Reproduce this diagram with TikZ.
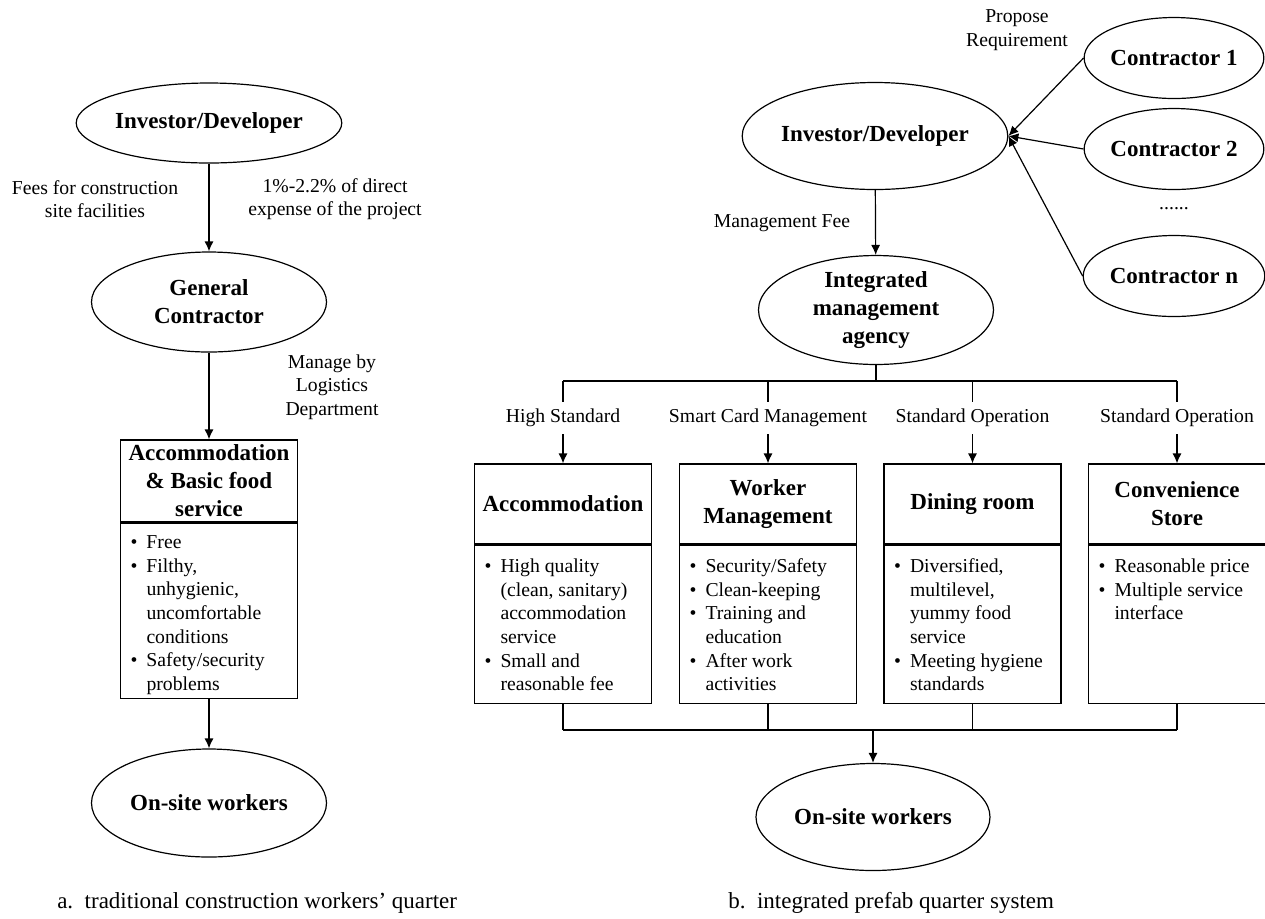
\documentclass[tikz,border=0pt]{standalone}
\usepackage{fontspec}
\setmainfont{Liberation Serif}
\usetikzlibrary{shapes.geometric,arrows.meta}

\newcommand{\bl}{\strut\makebox[8pt][l]{\textbullet}}
\newcommand{\nb}{\strut\hspace*{8pt}}

\begin{document}
\begin{tikzpicture}[x=0.5pt,y=-0.5pt,line width=0.6pt,>={Latex[length=5pt,width=4.5pt]},
    ovalnode/.style={ellipse, draw=black, inner sep=0pt, minimum width=117.5pt, minimum height=53.5pt, align=center, font=\fontsize{11.5pt}{14pt}\selectfont\bfseries},
    headbox/.style={rectangle, draw=black, minimum width=88.5pt, minimum height=40pt, inner sep=2pt, align=center, font=\fontsize{11.5pt}{14pt}\selectfont\bfseries},
    listbox/.style={rectangle, draw=black, anchor=north, inner xsep=5pt, inner ysep=4.5pt, font=\fontsize{9.85pt}{11.8pt}\selectfont},
    lbl/.style={align=center, font=\fontsize{9.85pt}{11.8pt}\selectfont}]
        \useasboundingbox (0,0) rectangle (1265,918);

        % a. traditional quarter
        \node[ovalnode, minimum height=40pt] (inv1) at (209,123) {Investor/Developer};
        \node[ovalnode, minimum height=50pt] (gc) at (209,302) {General\\Contractor};
        \node[headbox, minimum height=41pt] (abf) at (209,481) {Accommodation\\\& Basic food\\service};
        \node[listbox] (abfL) at (abf.south) {\parbox[c][78.5pt][t]{78.5pt}{\raggedright
            \bl Free\\ \bl Filthy,\\ \nb unhygienic,\\ \nb uncomfortable\\ \nb conditions\\
            \bl Safety/security\\ \nb problems}};
        \node[ovalnode, minimum height=54pt] (osw1) at (209,803) {On-site workers};

        \node[lbl] (fee1) at (95,199) {Fees for construction\\site facilities};
        \node[lbl] (pct1) at (335,199) {1\%-2.2\% of direct\\expense of the project};
        \node[lbl] (mng1) at (332,387) {Manage by\\Logistics\\Department};

        \draw[->] (inv1) -- (gc);
        \draw[->] (gc) -- (abf);
        \draw[->] (abfL) -- (osw1);

        % b. integrated prefab quarter
        \node[ovalnode] (inv2) at (875,136) {Investor/Developer};
        \node[ovalnode, minimum width=87.5pt, minimum height=40.5pt] (ctr1) at (1174,58) {Contractor 1};
        \node[ovalnode, minimum width=87.5pt, minimum height=40.5pt] (ctr2) at (1174,149) {Contractor 2};
        \node[lbl] (dots) at (1174,209) {......};
        \node[ovalnode, minimum width=87.5pt, minimum height=40.5pt] (ctrn) at (1174,276) {Contractor n};
        \node[ovalnode] (ima) at (876,310) {Integrated\\management\\agency};
        \node[lbl] (prq) at (1017,30) {Propose\\Requirement};
        \node[lbl] (mfee) at (782,223) {Management Fee};

        \draw[->] (ctr1.west) -- (inv2.east);
        \draw[->] (ctr2.west) -- (inv2.east);
        \draw[->] (ctrn.west) -- (inv2.east);
        \draw[->] (inv2) -- (ima);

        \node[headbox] (acc) at (563,504) {Accommodation};
        \node[headbox] (wkm) at (768,504) {Worker\\Management};
        \node[headbox] (din) at (972.5,504) {Dining room};
        \node[headbox] (cvs) at (1177,504) {Convenience\\Store};

        \node[listbox, inner ysep=5.5pt] (accL) at (acc.south) {\parbox[c][68pt][t]{78.5pt}{\raggedright
            \bl High quality\\ \nb (clean, sanitary)\\ \nb accommodation\\ \nb service\\
            \bl Small and\\ \nb reasonable fee}};
        \node[listbox, inner ysep=5.5pt] (wkmL) at (wkm.south) {\parbox[c][68pt][t]{78.5pt}{\raggedright
            \bl Security/Safety\\ \bl Clean-keeping\\ \bl Training and\\ \nb education\\
            \bl After work\\ \nb activities}};
        \node[listbox, inner ysep=5.5pt] (dinL) at (din.south) {\parbox[c][68pt][t]{78.5pt}{\raggedright
            \bl Diversified,\\ \nb multilevel,\\ \nb yummy food\\ \nb service\\
            \bl Meeting hygiene\\ \nb standards}};
        \node[listbox, inner ysep=5.5pt] (cvsL) at (cvs.south) {\parbox[c][68pt][t]{78.5pt}{\raggedright
            \bl Reasonable price\\ \bl Multiple service\\ \nb interface}};

        \node[ovalnode, minimum width=117pt] (osw2) at (873,817) {On-site workers};

        \coordinate (jt) at (876,381);
        \coordinate (jb) at (873,730);

        \draw (ima) -- (jt);
        \draw (acc.north |- jt) -- (cvs.north |- jt);
        \draw[->] (acc.north |- jt) -- node[lbl, fill=white, pos=0.45] {High Standard} (acc.north);
        \draw[->] (wkm.north |- jt) -- node[lbl, fill=white, pos=0.45] {Smart Card Management} (wkm.north);
        \draw[->] (din.north |- jt) -- node[lbl, fill=white, pos=0.45] {Standard Operation} (din.north);
        \draw[->] (cvs.north |- jt) -- node[lbl, fill=white, pos=0.45] {Standard Operation} (cvs.north);

        \draw (accL.south) -- (accL.south |- jb);
        \draw (wkmL.south) -- (wkmL.south |- jb);
        \draw (dinL.south) -- (dinL.south |- jb);
        \draw (cvsL.south) -- (cvsL.south |- jb);
        \draw (accL.south |- jb) -- (cvsL.south |- jb);
        \draw[->] (jb) -- (osw2);

        \node[anchor=west, font=\fontsize{11.5pt}{14pt}\selectfont] (capa) at (50,903) {a.\ \ traditional construction workers' quarter};
        \node[anchor=west, font=\fontsize{11.5pt}{14pt}\selectfont] (capb) at (721,903) {b.\ \ integrated prefab quarter system};

    \end{tikzpicture}
\end{document}
